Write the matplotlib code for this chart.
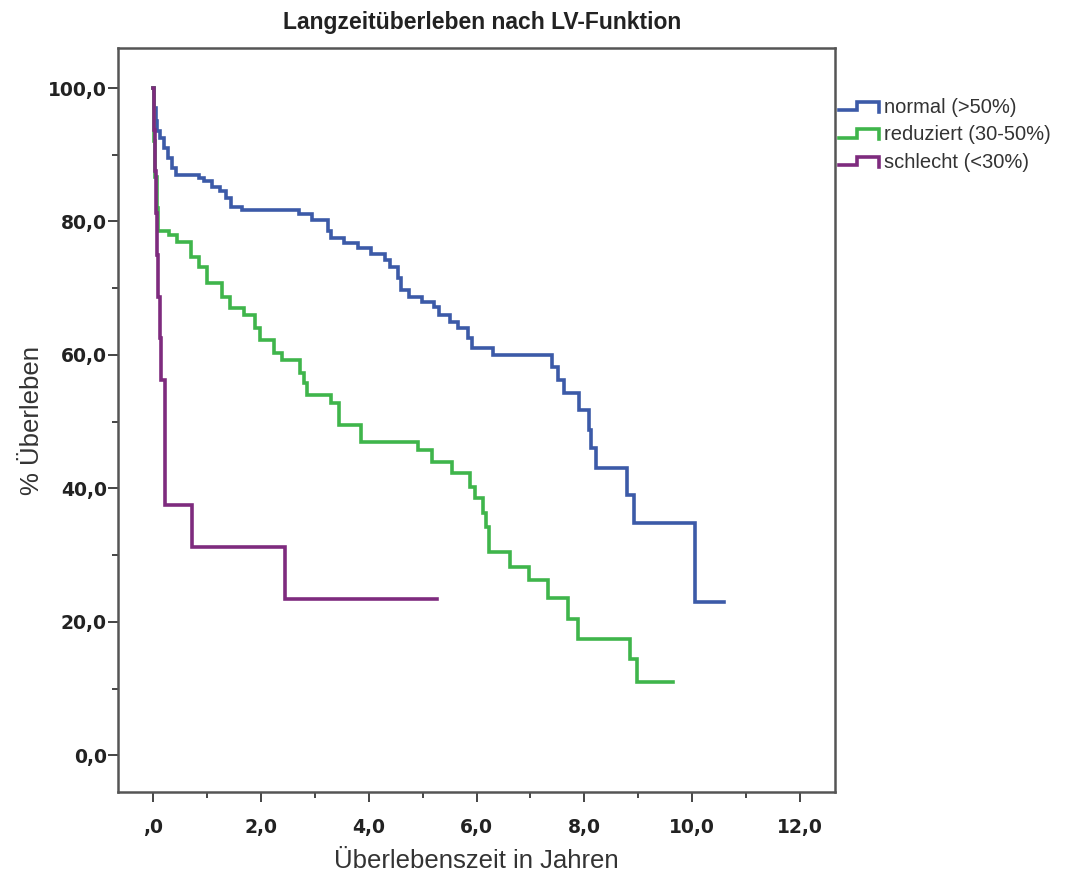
import numpy as np
import matplotlib.pyplot as plt
from matplotlib.lines import Line2D
from matplotlib.legend_handler import HandlerBase

# Kaplan-Meier Stufen: Zeitpunkt (Jahre) und Überleben (%) nach dem Ereignis
normal_t = [0, 0.02, 0.05, 0.08, 0.12, 0.2, 0.28, 0.35, 0.42, 0.85, 0.95, 1.1, 1.25, 1.35,
            1.45, 1.65, 2.7, 2.95, 3.25, 3.3, 3.55, 3.8, 4.05, 4.3, 4.4, 4.55, 4.6, 4.75,
            4.98, 5.22, 5.3, 5.5, 5.65, 5.85, 5.92, 6.3, 7.4, 7.52, 7.62, 7.9, 8.08, 8.12,
            8.22, 8.8, 8.93, 10.05, 10.6]
normal_s = [100, 97, 95, 93.5, 92.5, 91, 89.5, 88, 87, 86.5, 86, 85.2, 84.5, 83.5,
            82.2, 81.7, 81.1, 80.2, 78.5, 77.5, 76.8, 76, 75.2, 74.3, 73.2, 71.5, 69.7, 68.7,
            67.9, 67.2, 66, 65, 64, 62.5, 61, 60, 58.2, 56.2, 54.3, 51.7, 48.7, 46,
            43, 39, 34.8, 23, 23]

reduziert_t = [0, 0.02, 0.04, 0.07, 0.1, 0.3, 0.45, 0.7, 0.85, 1.0, 1.27, 1.42, 1.68, 1.9,
               1.98, 2.25, 2.4, 2.72, 2.8, 2.86, 3.3, 3.45, 3.86, 4.92, 5.18, 5.55, 5.88,
               5.98, 6.12, 6.18, 6.23, 6.63, 6.97, 7.32, 7.7, 7.88, 8.85, 8.97, 9.65]
reduziert_s = [100, 92, 86.7, 82, 78.5, 78, 77, 74.7, 73.2, 70.8, 68.7, 67, 66, 64,
               62.2, 60.3, 59.2, 57.3, 55.8, 54, 52.8, 49.5, 47, 45.7, 44, 42.3, 40.2,
               38.5, 36.3, 34.2, 30.4, 28.2, 26.2, 23.5, 20.5, 17.5, 14.5, 11, 11]

schlecht_t = [0, 0.01, 0.03, 0.05, 0.07, 0.1, 0.12, 0.15, 0.22, 0.72, 2.45, 5.27]
schlecht_s = [100, 93.75, 87.5, 81.25, 75, 68.75, 62.5, 56.25, 37.5, 31.25, 23.44, 23.44]

gruppen = ['normal (>50%)', 'reduziert (30-50%)', 'schlecht (<30%)']
farben = ['#3c5aa8', '#3fb54b', '#7e2b7e']

x_ticks = [0, 2, 4, 6, 8, 10, 12]
x_labels = [',0', '2,0', '4,0', '6,0', '8,0', '10,0', '12,0']
y_ticks = [0, 20, 40, 60, 80, 100]
y_labels = ['0,0', '20,0', '40,0', '60,0', '80,0', '100,0']


# Legendensymbol als kleine Treppe wie in SPSS
class StepHandler(HandlerBase):
    def create_artists(self, legend, orig_handle, xdescent, ydescent, width, height, fontsize, trans):
        x = np.array([0, 0.45, 0.45, 1.0, 1.0]) * width - xdescent
        y = np.array([0.2, 0.2, 0.8, 0.8, 0.1]) * height - ydescent
        line = Line2D(x, y, color=orig_handle.get_color(), lw=orig_handle.get_linewidth(),
                      solid_joinstyle='miter')
        line.set_transform(trans)
        return [line]


fig = plt.figure(figsize=(10.73, 8.72), dpi=100)
ax = fig.add_axes([118 / 1073, 1 - 792 / 872, (835 - 118) / 1073, (792 - 48) / 872])

daten = [(normal_t, normal_s), (reduziert_t, reduziert_s), (schlecht_t, schlecht_s)]
handles = []
for (t, s), name, farbe in zip(daten, gruppen, farben):
    h, = ax.step(t, s, where='post', color=farbe, lw=2.6, label=name, solid_joinstyle='miter')
    handles.append(h)

ax.set_xlim(-0.65, 12.65)
ax.set_ylim(-5.5, 106)

ax.set_xticks(x_ticks)
ax.set_xticklabels(x_labels)
ax.set_xticks([1, 3, 5, 7, 9, 11], minor=True)
ax.set_yticks(y_ticks)
ax.set_yticklabels(y_labels)
ax.set_yticks([10, 30, 50, 70, 90], minor=True)

ax.tick_params(which='major', length=7, width=1.4, color='#444444')
ax.tick_params(which='minor', length=4, width=1.4, color='#444444')
ax.tick_params(axis='x', which='major', pad=12)
ax.tick_params(axis='y', which='major', pad=1)
for lab in ax.get_xticklabels() + ax.get_yticklabels():
    lab.set_fontweight('bold')
    lab.set_fontsize(13.5)
    lab.set_color('#222222')

for sp in ax.spines.values():
    sp.set_color('#555555')
    sp.set_linewidth(1.8)

achsen_font = ['Liberation Sans Narrow', 'Liberation Sans', 'DejaVu Sans']
ax.set_xlabel('Überlebenszeit in Jahren', family=achsen_font, fontsize=18.5, color='#333333')
ax.set_ylabel('% Überleben', family=achsen_font, fontsize=18.5, color='#333333')
ax.xaxis.set_label_coords(0.5, (792 - 849) / 744)
ax.yaxis.set_label_coords((44 - 118) / 717, 0.5)

fig.text(482 / 1073, 1 - 23 / 872, 'Langzeitüberleben nach LV-Funktion', ha='center', va='center',
         family='Liberation Sans', fontweight='bold', fontsize=16.5, color='#222222')

leg = fig.legend(handles=handles, labels=gruppen, loc='upper left',
                 bbox_to_anchor=(839 / 1073, 1 - 98 / 872), frameon=False,
                 handler_map={Line2D: StepHandler()},
                 prop={'family': 'Liberation Sans', 'size': 14.5},
                 handlelength=2.0, handletextpad=0.25, labelspacing=0.42,
                 borderpad=0, borderaxespad=0)
for txt in leg.get_texts():
    txt.set_color('#333333')

fig.savefig('out.png', dpi=100)
